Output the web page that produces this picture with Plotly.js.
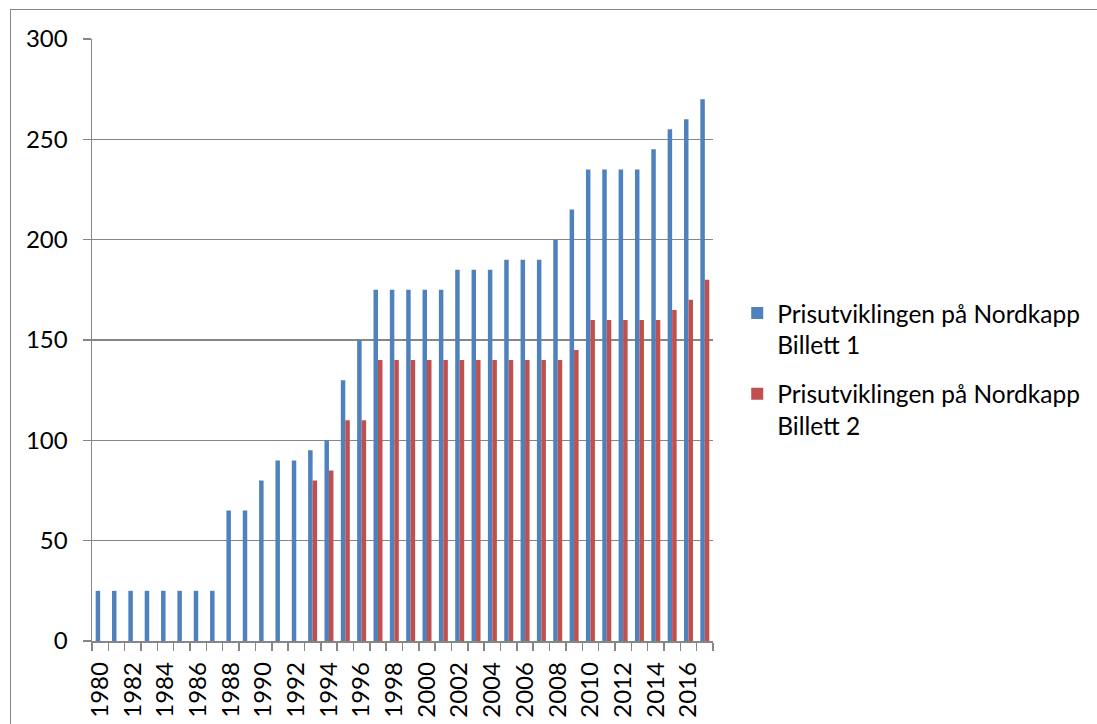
<!DOCTYPE html>
<html>
<head>
<meta charset="utf-8">
<script src="https://cdn.plot.ly/plotly-3.0.1.min.js"></script>
<style>
  html, body { margin: 0; padding: 0; background: #fff; }
  #wrap { position: relative; width: 1097px; height: 724px; overflow: hidden; }
  #chart { position: absolute; left: 0; top: 0; width: 1097px; height: 724px; }
  #frame { position: absolute; left: 10px; top: 9px; width: 1100px; height: 730px;
           border: 1.5px solid #868686; pointer-events: none; box-sizing: border-box; }
</style>
</head>
<body>
<div id="wrap">
  <div id="chart"></div>
  <div id="frame"></div>
</div>
<script>
const years = ["1980","1981","1982","1983","1984","1985","1986","1987","1988","1989",
  "1990","1991","1992","1993","1994","1995","1996","1997","1998","1999",
  "2000","2001","2002","2003","2004","2005","2006","2007","2008","2009",
  "2010","2011","2012","2013","2014","2015","2016","2017"];

const billett1 = [25,25,25,25,25,25,25,25,65,65,
  80,90,90,95,100,130,150,175,175,175,
  175,175,185,185,185,190,190,190,200,215,
  235,235,235,235,245,255,260,270];

const billett2 = [0,0,0,0,0,0,0,0,0,0,
  0,0,0,80,85,110,110,140,140,140,
  140,140,140,140,140,140,140,140,140,145,
  160,160,160,160,160,165,170,180];

const seriesNames = ["Prisutviklingen på Nordkapp<br>Billett 1",
                     "Prisutviklingen på Nordkapp<br>Billett 2"];

const tickLabels = years.map((y, i) => (i % 2 === 0 ? y : ""));

const FONT = "Lato, 'Noto Sans', sans-serif";
const AXIS = "#868686";

const traces = [
  { type: "bar", x: years, y: billett1, name: seriesNames[0], legendgroup: "a",
    marker: { color: "#4F81BD" } },
  { type: "bar", x: years, y: billett2, name: seriesNames[1], legendgroup: "b",
    marker: { color: "#C0504D" } }
];

const layout = {
  width: 1097, height: 724,
  margin: { l: 92, r: 384, t: 38.5, b: 83, pad: 0 },
  paper_bgcolor: "rgba(0,0,0,0)",
  plot_bgcolor: "#fff",
  font: { family: FONT, color: "#000", size: 24 },
  barmode: "group",
  bargap: 0.45,
  bargroupgap: 0,
  showlegend: true,
  legend: {
    x: 1.039, xanchor: "left", y: 0.582, yanchor: "top",
    font: { family: FONT, size: 24.5, color: "#000" },
    valign: "top", traceorder: "grouped", tracegroupgap: 14,
    bgcolor: "rgba(0,0,0,0)"
  },
  xaxis: {
    type: "category",
    tickvals: years, ticktext: tickLabels,
    tickangle: -90,
    ticks: "outside", ticklen: 8, tickcolor: AXIS, tickwidth: 1.5,
    tickson: "boundaries",
    ticklabelstandoff: 10,
    showline: true, linecolor: AXIS, linewidth: 1.5,
    showgrid: false, zeroline: false,
    tickfont: { family: FONT, size: 24, color: "#000" },
    automargin: false
  },
  yaxis: {
    range: [0, 300], dtick: 50, tick0: 0,
    ticks: "outside", ticklen: 8, tickcolor: AXIS, tickwidth: 1.5,
    ticklabelstandoff: 10,
    showline: true, linecolor: AXIS, linewidth: 1.5,
    showgrid: true, gridcolor: AXIS, gridwidth: 1.5,
    zeroline: false,
    tickfont: { family: FONT, size: 24, color: "#000" },
    automargin: false
  }
};

Plotly.newPlot("chart", traces, layout, { displayModeBar: false, staticPlot: true });
</script>
</body>
</html>
